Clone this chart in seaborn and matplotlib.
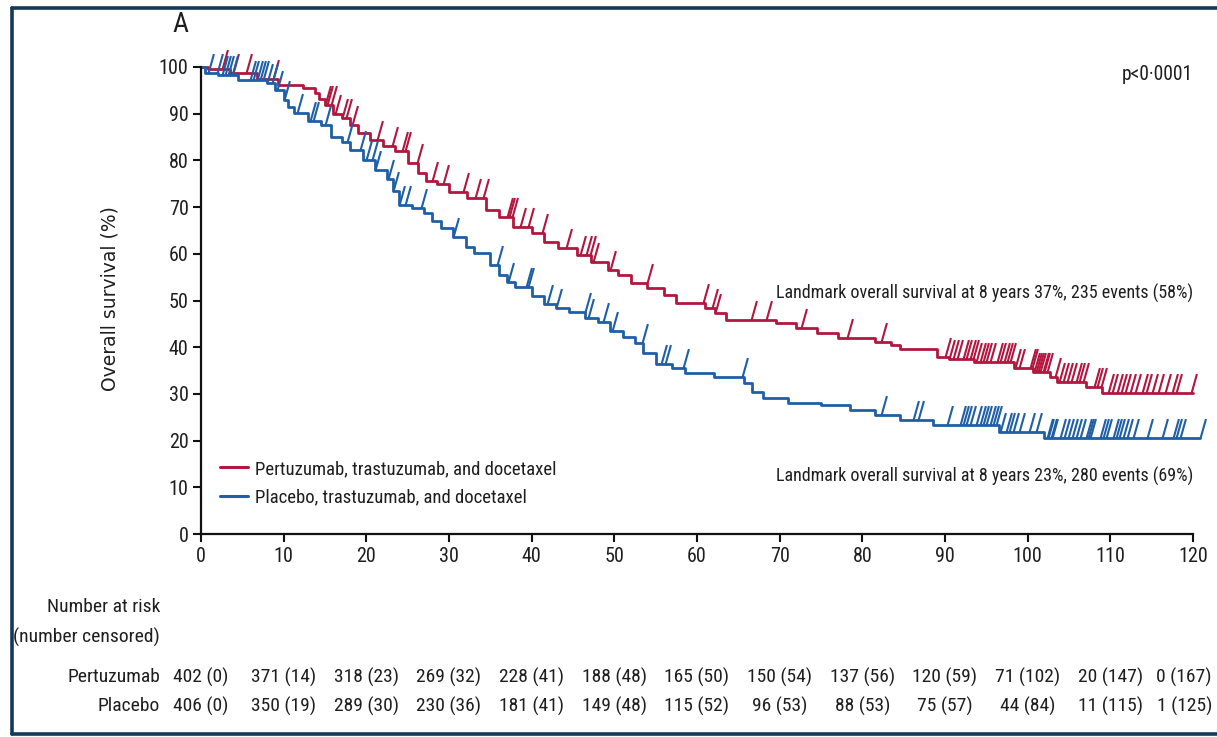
import os
import numpy as np
import pandas as pd
import matplotlib
matplotlib.use("Agg")
import matplotlib.pyplot as plt
import seaborn as sns
from matplotlib import font_manager as fm
from matplotlib.font_manager import FontProperties
from matplotlib.lines import Line2D
from matplotlib.path import Path
from matplotlib.transforms import blended_transform_factory

# ---------------- data ----------------
arm_names = ["Pertuzumab, trastuzumab, and docetaxel", "Placebo, trastuzumab, and docetaxel"]
row_names = ["Pertuzumab", "Placebo"]

pert_times = [0, 0.8, 3.5, 6.8, 9.3, 12.3, 13.8, 14.3, 15.0, 16.0, 17.0, 18.0, 19.0, 20.5, 22.0, 23.5,
              25.0, 26.2, 27.2, 28.5, 30.0, 32.2, 34.5, 36.0, 37.8, 40.0, 41.5, 43.2, 45.5, 47.2, 49.2,
              50.5, 52.0, 54.0, 56.0, 57.5, 61.0, 62.2, 63.5, 69.5, 72.0, 74.5, 77.0, 81.5, 83.5, 84.5,
              89.0, 90.5, 93.5, 98.3, 100.7, 102.7, 103.5, 107.0, 109.0, 120.0]
pert_surv = [100, 99.5, 98.7, 97.4, 96.1, 95.6, 94.5, 93.2, 91.8, 90.0, 89.0, 87.5, 85.8, 84.4, 83.0, 82.0,
             79.4, 77.3, 75.5, 75.0, 73.2, 72.0, 69.4, 67.9, 65.7, 64.4, 62.5, 61.2, 59.7, 58.2, 56.5,
             55.5, 53.7, 52.7, 51.2, 49.5, 48.4, 47.3, 45.8, 45.2, 44.1, 43.0, 42.0, 41.1, 40.5, 39.6,
             38.0, 37.4, 36.8, 35.6, 34.7, 33.6, 32.5, 31.5, 30.2, 30.2]
pert_censor = [2.5, 3.9, 5.5, 8.7, 15.0, 15.3, 15.7, 16.2, 17.0, 17.6, 18.3, 21.3, 23.1, 24.3, 24.7, 26.1,
               28.0, 29.3, 31.7, 33.1, 34.1, 37.0, 37.3, 37.6, 38.6, 39.5, 41.2, 44.2, 45.8, 46.6, 47.0,
               47.4, 49.5, 53.9, 60.7, 61.8, 62.2, 66.5, 68.3, 72.6, 78.1, 82.3, 90.0, 90.5, 91.0, 91.4,
               92.2, 92.6, 93.0, 93.4, 93.8, 94.2, 94.6, 95.0, 95.5, 96.3, 96.7, 97.1, 97.5, 97.9, 98.5,
               99.0, 100.3, 100.5, 100.8, 101.0, 101.3, 101.5, 101.8, 102.0, 102.3, 103.3, 103.8, 104.3,
               104.8, 105.3, 105.8, 106.2, 106.7, 108.0, 108.4, 108.9, 109.7, 110.2, 110.8, 111.3, 111.8,
               112.4, 113.0, 113.8, 114.3, 115.0, 115.8, 116.6, 117.4, 118.0, 119.8]

plac_times = [0, 0.5, 2.0, 4.5, 8.0, 9.0, 10.0, 10.5, 11.3, 13.0, 14.5, 15.7, 17.0, 18.0, 19.6, 21.0, 22.5,
              23.2, 24.0, 25.5, 27.0, 28.0, 29.0, 30.5, 32.0, 33.0, 35.0, 36.0, 37.0, 38.0, 40.0, 41.5,
              43.0, 44.5, 46.5, 48.0, 49.5, 51.0, 52.5, 53.5, 55.0, 57.0, 58.5, 62.0, 65.7, 66.7, 68.0,
              71.0, 75.0, 78.5, 81.5, 84.5, 88.5, 96.5, 102.0, 120.8]
plac_surv = [100, 98.8, 98.3, 97.2, 96.5, 95.0, 93.0, 91.5, 90.1, 88.5, 87.5, 85.0, 84.0, 82.2, 80.0, 78.0,
             76.0, 73.5, 70.5, 69.8, 68.7, 67.0, 65.5, 63.6, 61.5, 60.2, 57.5, 55.5, 54.0, 52.9, 51.0,
             49.2, 48.5, 47.5, 46.3, 45.5, 43.5, 42.2, 41.0, 38.8, 36.5, 35.5, 34.5, 33.6, 32.3, 30.4,
             29.1, 28.0, 27.6, 26.5, 25.5, 24.4, 23.3, 21.8, 20.5, 20.5]
plac_censor = [0.9, 1.9, 2.5, 2.9, 3.3, 3.7, 5.9, 6.3, 6.8, 7.1, 7.5, 8.0, 8.6, 9.2, 10.0, 11.6, 13.2, 13.5,
               15.0, 17.7, 19.2, 20.0, 20.7, 21.0, 22.6, 23.2, 24.0, 24.7, 26.6, 30.5, 35.8, 37.1, 39.3,
               39.6, 41.8, 43.0, 46.4, 46.8, 48.6, 49.7, 53.3, 55.7, 56.1, 58.3, 65.5, 82.3, 86.1, 86.7,
               90.2, 91.8, 92.2, 92.6, 93.0, 93.8, 94.2, 94.6, 95.0, 95.4, 95.8, 96.2, 96.6, 97.4, 97.8,
               98.2, 99.0, 100.2, 101.0, 102.3, 102.5, 102.8, 103.0, 103.9, 104.4, 104.9, 105.4, 105.8,
               106.3, 107.1, 107.3, 107.5, 108.7, 109.1, 109.5, 110.3, 110.7, 111.1, 111.5, 112.0, 112.7,
               114.4, 116.3, 117.6, 118.0, 118.4, 120.8]

risk_times = [0, 10, 20, 30, 40, 50, 60, 70, 80, 90, 100, 110, 120]
pert_risk = [402, 371, 318, 269, 228, 188, 165, 150, 137, 120, 71, 20, 0]
pert_cens = [0, 14, 23, 32, 41, 48, 50, 54, 56, 59, 102, 147, 167]
plac_risk = [406, 350, 289, 230, 181, 149, 115, 96, 88, 75, 44, 11, 1]
plac_cens = [0, 19, 30, 36, 41, 48, 52, 53, 53, 57, 84, 115, 125]

x_ticks = [0, 10, 20, 30, 40, 50, 60, 70, 80, 90, 100, 110, 120]
y_ticks = [0, 10, 20, 30, 40, 50, 60, 70, 80, 90, 100]

landmark_pert = "Landmark overall survival at 8 years 37%, 235 events (58%)"
landmark_plac = "Landmark overall survival at 8 years 23%, 280 events (69%)"
p_text = "p<0·0001"

# ---------------- styling ----------------
RED = "#b3163f"
BLUE = "#1f5fa6"
FRAME = "#15395a"
TXT = "#1e1e1e"

sns.set_theme(style="white")


def pick_narrow_font():
    """Find an installed regular narrow/condensed sans family."""
    found = []
    for f in fm.fontManager.ttflist:
        fname = os.path.basename(f.fname).lower()
        name = f.name
        st = str(f.stretch)
        if f.style != "normal":
            continue
        if f.weight not in (400, "normal", "regular"):
            continue
        is_narrow = ("narrow" in name.lower() or "condensed" in name.lower()
                     or "narrow" in fname or "condensed" in fname
                     or st in ("condensed", "semi-condensed", "extra-condensed"))
        if is_narrow and "mono" not in name.lower() and "serif" not in name.lower().replace("sans", ""):
            found.append((name, st))
    prefs = ["Liberation Sans Narrow", "Arial Narrow", "Roboto Condensed", "Open Sans Condensed",
             "Noto Sans", "DejaVu Sans", "Noto Sans Display"]
    for p in prefs:
        for name, st in found:
            if name == p:
                return name, st
    if found:
        return found[0]
    return None


pick = pick_narrow_font()
if pick is not None:
    plt.rcParams["font.family"] = [pick[0], "DejaVu Sans"]
    if pick[1] in ("condensed", "semi-condensed", "extra-condensed"):
        plt.rcParams["font.stretch"] = pick[1]
    SCALE = 1.0
else:
    plt.rcParams["font.family"] = ["Roboto", "DejaVu Sans"]
    SCALE = 0.9

FS = 14.5 * SCALE      # tick labels
FS_TAB = 14 * SCALE    # risk table
FS_ANN = 13 * SCALE    # landmark text
FS_LEG = 13.5 * SCALE  # legend

W, H = 1217, 737
fig = plt.figure(figsize=(W / 100, H / 100), dpi=100)
x0, x1, y0, y1 = 201, 1193, 67, 534
ax = fig.add_axes([x0 / W, 1 - y1 / H, (x1 - x0) / W, (y1 - y0) / H])

df = pd.concat([
    pd.DataFrame({"time": pert_times, "surv": pert_surv, "arm": arm_names[0]}),
    pd.DataFrame({"time": plac_times, "surv": plac_surv, "arm": arm_names[1]}),
])
palette = {arm_names[0]: RED, arm_names[1]: BLUE}
sns.lineplot(data=df, x="time", y="surv", hue="arm", palette=palette, estimator=None, sort=False,
             drawstyle="steps-post", linewidth=2.0, legend=False, ax=ax, clip_on=False)

tick_marker = Path([(0, 0), (0.28, 1.0)], [Path.MOVETO, Path.LINETO])


def surv_at(times, surv, t):
    idx = np.searchsorted(np.asarray(times), np.asarray(t), side="right") - 1
    return np.asarray(surv)[idx]


for times, surv, cens, col in [(pert_times, pert_surv, pert_censor, RED),
                               (plac_times, plac_surv, plac_censor, BLUE)]:
    ax.plot(cens, surv_at(times, surv, cens), linestyle="none", marker=tick_marker,
            markersize=28, markeredgewidth=1.5, markeredgecolor=col, markerfacecolor="none",
            clip_on=False)

ax.set_xlim(0, 120)
ax.set_ylim(0, 100)
ax.set_xticks(x_ticks)
ax.set_yticks(y_ticks)
ax.set_xticklabels([str(v) for v in x_ticks])
ax.set_yticklabels([str(v) for v in y_ticks])
for s in ["top", "right"]:
    ax.spines[s].set_visible(False)
for s in ["left", "bottom"]:
    ax.spines[s].set_color("#111111")
    ax.spines[s].set_linewidth(1.6)
ax.tick_params(axis="both", direction="out", length=6, width=1.5, color="#111111",
               labelsize=FS, labelcolor=TXT, pad=3, left=True, bottom=True)
ax.set_xlabel("")
ylab_fp = FontProperties(family="DejaVu Sans", stretch="normal", size=13.5)
ax.set_ylabel("Overall survival (%)", color=TXT, fontproperties=ylab_fp)
ax.yaxis.set_label_coords((119 - x0) / (x1 - x0), (y1 - 299) / (y1 - y0))
ax.set_facecolor("white")

# legend
handles = [Line2D([0], [0], color=RED, lw=2.2), Line2D([0], [0], color=BLUE, lw=2.2)]
fig.legend(handles, arm_names, loc="upper left", bbox_to_anchor=(203 / W, 1 - 443 / H),
           frameon=False, fontsize=FS_LEG, handlelength=1.5, handletextpad=0.35, labelspacing=0.55,
           labelcolor=TXT)

# annotations
fig.text(180 / W, 1 - 24 / H, "A", fontsize=20, color=TXT, ha="center", va="center", weight="normal")
fig.text(1193 / W, 1 - 75 / H, p_text, fontsize=FS * 0.97, color=TXT, ha="right", va="center")
fig.text(1193 / W, 1 - 293 / H, landmark_pert, fontsize=FS_ANN, color=TXT, ha="right", va="center")
fig.text(1193 / W, 1 - 476 / H, landmark_plac, fontsize=FS_ANN, color=TXT, ha="right", va="center")

# number at risk table
lab_x = 160 / W
fig.text(lab_x, 1 - 607 / H, "Number at risk", fontsize=FS_TAB, color=TXT, ha="right", va="center")
fig.text(lab_x, 1 - 637 / H, "(number censored)", fontsize=FS_TAB, color=TXT, ha="right", va="center")
tr = blended_transform_factory(ax.transData, fig.transFigure)
for name, risk, cens, ypix in [(row_names[0], pert_risk, pert_cens, 677),
                               (row_names[1], plac_risk, plac_cens, 706)]:
    fig.text(lab_x, 1 - ypix / H, name, fontsize=FS_TAB, color=TXT, ha="right", va="center")
    for i, (t, r, c) in enumerate(zip(risk_times, risk, cens)):
        last = i == len(risk_times) - 1
        fig.text(1212 / W if last else t, 1 - ypix / H, f"{r} ({c})",
                 transform=fig.transFigure if last else tr, fontsize=FS_TAB, color=TXT,
                 ha="right" if last else "center", va="center")

# outer frame
for (xa, ya, xb, yb) in [(12, 8, 1217, 8), (12, 8, 12, 734), (12, 734, 1217, 734)]:
    fig.add_artist(Line2D([xa / W, xb / W], [1 - ya / H, 1 - yb / H], transform=fig.transFigure,
                          color=FRAME, lw=2.6))

fig.savefig("out.png", dpi=100, facecolor="white")
